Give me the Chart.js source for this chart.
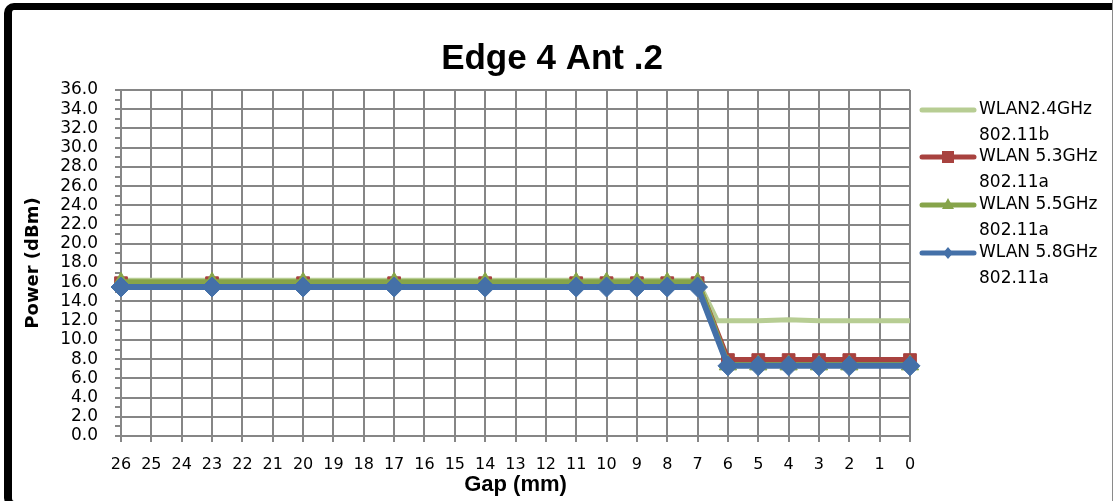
<!DOCTYPE html>
<html lang="en">
<head>
  <meta charset="UTF-8">
  <title>Edge 4 Ant .2</title>
  <script src="https://cdn.jsdelivr.net/npm/chart.js"></script>
  <style>
    html, body { margin: 0; padding: 0; background: #fff; }
    #wrap { position: relative; width: 1113px; height: 501px; overflow: hidden; }
    #chart { position: absolute; left: 0; top: 0; }
    #frame {
      position: absolute; left: 4px; top: 3px;
      width: 1140px; height: 505px;
      border: 7px solid #000; border-left-width: 8px;
      border-radius: 10px; box-sizing: border-box;
      pointer-events: none;
    }
    #edge { position: absolute; right: 0; top: 0; width: 1px; height: 100%; background: #8a8a8a; }
  </style>
</head>
<body>
  <div id="wrap">
    <canvas id="chart" width="1113" height="501"></canvas>
    <div id="frame"></div>
    <div id="edge"></div>
  </div>
  <script>
    // values
    const chartTitle = 'Edge 4 Ant .2';
    const gaps   = [26, 23, 20, 17, 14, 11, 10, 9, 8, 7, 6, 5, 4, 3, 2, 0];
    const gaps24 = [26, 23, 20, 17, 14, 11, 10, 9, 8, 7, 6.35, 5, 4, 3, 2, 0];
    const wlan24 = [16.2, 16.2, 16.2, 16.2, 16.2, 16.2, 16.2, 16.2, 16.2, 16.2, 12.0, 12.0, 12.1, 12.0, 12.0, 12.0];
    const wlan53 = [15.9, 15.9, 15.9, 15.9, 15.9, 15.9, 15.9, 15.9, 15.9, 15.9, 7.9, 7.9, 7.9, 7.9, 7.9, 7.9];
    const wlan55 = [16.0, 16.0, 16.0, 16.0, 16.0, 16.0, 16.0, 16.0, 16.0, 16.0, 7.4, 7.4, 7.4, 7.4, 7.4, 7.4];
    const wlan58 = [15.5, 15.5, 15.5, 15.5, 15.5, 15.5, 15.5, 15.5, 15.5, 15.5, 7.3, 7.3, 7.3, 7.3, 7.3, 7.3];
    const seriesNames = [
      ['WLAN2.4GHz', '802.11b'],
      ['WLAN 5.3GHz', '802.11a'],
      ['WLAN 5.5GHz', '802.11a'],
      ['WLAN 5.8GHz', '802.11a']
    ];

    const colors = ['#b7cd93', '#a8423f', '#86a44a', '#4470a8'];
    const markers = [false, 'rect', 'triangle', 'rectRot'];
    const radii = [0, 9, 10, 10];
    const gridGrey = '#868686';

    const pts = (xs, ys) => xs.map((x, i) => ({x: x, y: ys[i]}));
    const seriesData = [pts(gaps24, wlan24), pts(gaps, wlan53), pts(gaps, wlan55), pts(gaps, wlan58)];

    const datasets = seriesData.map((d, i) => ({
      label: seriesNames[i].join(' '),
      data: d,
      borderColor: colors[i],
      backgroundColor: colors[i],
      borderWidth: i === 0 ? 5 : 6,
      pointStyle: markers[i],
      pointRadius: radii[i],
      pointHoverRadius: radii[i],
      pointBorderWidth: 1,
      tension: 0,
      clip: false,
      order: 3 - i
    }));

    // title + legend drawn on top of the chart
    const decor = {
      id: 'decor',
      afterDraw(chart) {
        const ctx = chart.ctx;
        ctx.save();
        ctx.fillStyle = '#000';
        ctx.textAlign = 'center';
        ctx.textBaseline = 'middle';
        ctx.font = 'bold 35px "Liberation Sans", Arial, sans-serif';
        ctx.fillText(chartTitle, 552, 59);

        const rows = [110, 157, 205, 253];
        ctx.textAlign = 'left';
        ctx.font = '17px "DejaVu Sans", sans-serif';
        rows.forEach((y, i) => {
          ctx.strokeStyle = colors[i];
          ctx.lineWidth = 5;
          ctx.lineCap = 'round';
          ctx.beginPath();
          ctx.moveTo(922, y);
          ctx.lineTo(974, y);
          ctx.stroke();
          ctx.fillStyle = colors[i];
          const cx = 948;
          if (markers[i] === 'rect') {
            ctx.fillRect(cx - 6, y - 6, 12, 12);
          } else if (markers[i] === 'triangle') {
            ctx.beginPath();
            ctx.moveTo(cx, y - 7);
            ctx.lineTo(cx + 6, y + 4);
            ctx.lineTo(cx - 6, y + 4);
            ctx.closePath();
            ctx.fill();
          } else if (markers[i] === 'rectRot') {
            ctx.beginPath();
            ctx.moveTo(cx, y - 6);
            ctx.lineTo(cx + 5, y);
            ctx.lineTo(cx, y + 6);
            ctx.lineTo(cx - 5, y);
            ctx.closePath();
            ctx.fill();
          }
          ctx.fillStyle = '#000';
          ctx.fillText(seriesNames[i][0], 979, y);
          ctx.fillText(seriesNames[i][1], 979, y + 26);
        });
        ctx.restore();
      }
    };

    new Chart(document.getElementById('chart'), {
      type: 'line',
      data: { datasets: datasets },
      plugins: [decor],
      options: {
        responsive: false,
        animation: false,
        layout: { padding: { top: 90, right: 203, bottom: 0, left: 0 } },
        plugins: { legend: { display: false }, title: { display: false }, tooltip: { enabled: false } },
        scales: {
          x: {
            type: 'linear',
            min: 0,
            max: 26,
            reverse: true,
            afterFit: s => { s.height = 65; },
            ticks: {
              stepSize: 1,
              autoSkip: false,
              maxRotation: 0,
              padding: 13,
              color: '#000',
              font: { family: '"DejaVu Sans", sans-serif', size: 16 }
            },
            grid: { color: gridGrey, lineWidth: 2, tickLength: 6, tickColor: gridGrey },
            border: { color: gridGrey, width: 2 },
            title: {
              display: true,
              text: 'Gap (mm)',
              color: '#000',
              font: { family: '"Liberation Sans Narrow", "Liberation Sans", sans-serif', size: 22, weight: 'bold' },
              padding: { top: 0, bottom: 3 }
            }
          },
          y: {
            min: 0,
            max: 36,
            afterFit: s => { s.width = 121; },
            ticks: {
              stepSize: 1,
              autoSkip: false,
              padding: 17,
              color: '#000',
              font: { family: '"DejaVu Sans", sans-serif', size: 17 },
              callback: v => (v % 2 === 0 ? v.toFixed(1) : '')
            },
            grid: {
              color: c => (c.tick && c.tick.value % 2 === 0 ? gridGrey : 'rgba(0,0,0,0)'),
              tickColor: gridGrey,
              lineWidth: 2,
              tickLength: 6
            },
            border: { color: gridGrey, width: 2 },
            title: {
              display: true,
              text: 'Power (dBm)',
              color: '#000',
              font: { family: '"DejaVu Sans", sans-serif', size: 18, weight: 'bold' },
              padding: { top: 23, bottom: 0 }
            }
          }
        }
      }
    });
  </script>
</body>
</html>
